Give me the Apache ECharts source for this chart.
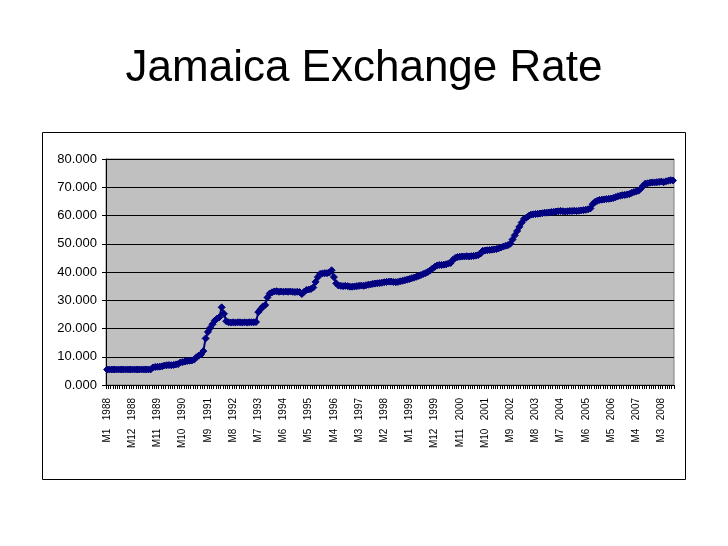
<!DOCTYPE html>
<html>
<head>
<meta charset="utf-8">
<script src="https://cdn.jsdelivr.net/npm/echarts@6/dist/echarts.min.js"></script>
<style>
html,body{margin:0;padding:0;background:#fff;}
#c{width:728px;height:546px;}
</style>
</head>
<body>
<div id="c"></div>
<script>
// Monthly JMD per USD
const rate1988 = [5.48,5.48,5.49,5.49,5.49,5.49,5.49,5.49,5.49,5.49,5.49,5.49];
const rate1989 = [5.49,5.49,5.49,5.50,5.50,5.50,5.50,5.52,6.20,6.40,6.45,6.50];
const rate1990 = [6.60,6.90,7.00,7.05,7.00,7.10,7.30,7.40,8.00,8.10,8.30,8.50];
const rate1991 = [8.60,8.70,9.00,9.80,10.40,10.80,12.00,16.50,18.80,20.20,21.50,22.80];
const rate1992 = [23.50,24.00,27.50,25.20,22.60,22.20,22.10,22.20,22.10,22.20,22.20,22.10];
const rate1993 = [22.20,22.10,22.20,22.20,22.20,22.30,25.80,26.80,27.80,28.30,31.00,32.40];
const rate1994 = [32.80,33.10,33.20,33.00,33.10,33.00,33.10,33.00,33.10,33.00,32.90,33.00];
const rate1995 = [32.90,32.20,33.00,33.60,33.80,34.00,34.50,36.50,38.20,39.30,39.50,39.60];
const rate1996 = [39.60,39.80,40.60,38.20,36.00,35.20,35.10,35.00,35.10,35.00,34.80,34.80];
const rate1997 = [34.90,35.00,35.10,35.20,35.10,35.30,35.50,35.60,35.80,35.90,36.00,36.10];
const rate1998 = [36.20,36.40,36.50,36.60,36.60,36.50,36.40,36.50,36.70,36.90,37.10,37.30];
const rate1999 = [37.50,37.80,38.00,38.30,38.60,38.90,39.30,39.60,40.00,40.50,41.20,41.80];
const rate2000 = [42.30,42.50,42.50,42.60,42.70,43.00,43.20,44.30,45.00,45.30,45.40,45.50];
const rate2001 = [45.50,45.60,45.50,45.60,45.70,45.80,46.00,46.50,47.50,47.60,47.70,47.80];
const rate2002 = [47.90,48.00,48.10,48.40,48.70,49.00,49.30,49.50,50.00,51.50,53.00,54.50];
const rate2003 = [56.00,57.50,58.80,59.20,59.80,60.30,60.40,60.50,60.60,60.70,60.80,61.00];
const rate2004 = [61.00,61.10,61.20,61.30,61.40,61.50,61.60,61.50,61.40,61.50,61.60,61.60];
const rate2005 = [61.70,61.60,61.70,61.80,61.90,62.00,62.20,62.50,64.00,64.80,65.20,65.50];
const rate2006 = [65.60,65.70,65.80,65.90,66.00,66.20,66.50,66.80,67.00,67.20,67.30,67.40];
const rate2007 = [67.60,68.00,68.30,68.50,68.80,69.50,70.50,71.30,71.40,71.60,71.70,71.70];
const rate2008 = [71.80,71.90,72.00,71.80,72.10,72.30,72.50,72.40];

const years = [1988,1989,1990,1991,1992,1993,1994,1995,1996,1997,1998,1999,2000,2001,2002,2003,2004,2005,2006,2007,2008];
const yearly = [rate1988,rate1989,rate1990,rate1991,rate1992,rate1993,rate1994,rate1995,rate1996,rate1997,rate1998,rate1999,rate2000,rate2001,rate2002,rate2003,rate2004,rate2005,rate2006,rate2007,rate2008];
const yTicks = [0,10,20,30,40,50,60,70,80];

const categories = [];
const values = [];
years.forEach((y, k) => {
  yearly[k].forEach((v, m) => {
    categories.push('M' + (m + 1) + ' ' + y);
    values.push(v);
  });
});

const chart = echarts.init(document.getElementById('c'), null, {renderer: 'canvas'});
chart.setOption({
  animation: false,
  backgroundColor: '#ffffff',
  title: {
    text: 'Jamaica Exchange Rate',
    left: 'center',
    top: 42,
    textStyle: {fontFamily: 'Liberation Sans, Arial, sans-serif', fontSize: 44, fontWeight: 'normal', color: '#000'}
  },
  graphic: [{
    type: 'rect',
    shape: {x: 42.5, y: 132.5, width: 643, height: 347},
    style: {fill: 'none', stroke: '#000', lineWidth: 1},
    z: -1
  }],
  grid: {
    left: 106, top: 159, right: 728 - 674, bottom: 546 - 385,
    show: true, backgroundColor: '#C0C0C0', borderColor: '#808080', borderWidth: 1
  },
  xAxis: {
    type: 'category',
    data: categories,
    boundaryGap: true,
    axisLine: {lineStyle: {color: '#000', width: 1}},
    axisTick: {show: true, interval: 0, length: 4, inside: false, lineStyle: {color: '#000'}},
    axisLabel: {
      interval: 10, rotate: 90, margin: 13,
      formatter: s => s.replace(' ', '   '),
      fontFamily: 'Liberation Sans, Arial, sans-serif', fontSize: 10, color: '#000'
    },
    splitLine: {show: false}
  },
  yAxis: {
    type: 'value',
    min: yTicks[0], max: yTicks[yTicks.length - 1], interval: 10,
    axisLine: {show: true, lineStyle: {color: '#000', width: 1}},
    axisTick: {show: true, length: 4, lineStyle: {color: '#000'}},
    axisLabel: {
      formatter: v => v.toFixed(3), margin: 9,
      fontFamily: 'Liberation Sans, Arial, sans-serif', fontSize: 13, color: '#000'
    },
    splitLine: {show: true, lineStyle: {color: '#000', width: 1}}
  },
  series: [{
    type: 'line',
    data: values,
    symbol: 'diamond',
    symbolSize: 7,
    showSymbol: true,
    showAllSymbol: true,
    lineStyle: {color: '#000080', width: 2},
    itemStyle: {color: '#000080', borderColor: '#000080'},
    z: 3
  }]
});
</script>
</body>
</html>
